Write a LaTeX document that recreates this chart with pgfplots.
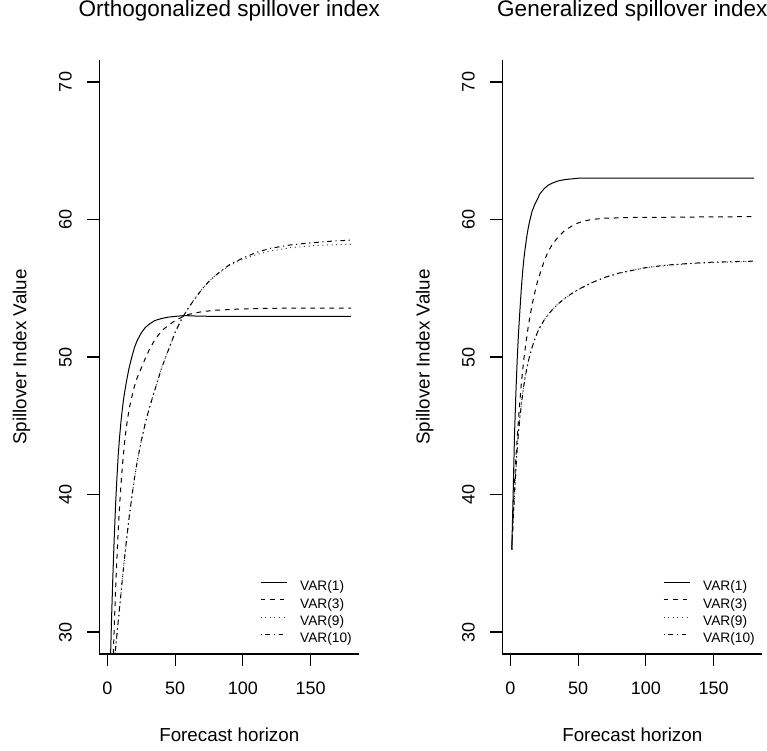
\documentclass[border=0pt]{standalone}
\usepackage{fontspec}
\setmainfont{Liberation Sans}
\usepackage{pgfplots}
\usepackage{pgfplotstable}
\pgfplotsset{compat=1.18}

\pgfplotstableread{
h v1 v3 v9 v10
1 22.0 16.0 23.5 23.5
2 27.0 20.0 24.6 24.6
3 30.8 24.0 25.7 25.7
4 34.0 27.4 26.7 26.7
5 36.8 30.3 27.8 27.8
6 39.2 33.0 28.8 28.8
7 41.2 35.3 29.8 29.8
8 42.9 37.4 30.8 30.8
9 44.2 39.2 31.8 31.8
10 45.3 40.7 32.8 32.8
11 46.2 42.0 33.8 33.8
12 47.0 43.1 34.8 34.8
13 47.6 44.1 35.7 35.7
14 48.2 44.9 36.6 36.6
16 49.2 46.2 38.3 38.3
18 50.0 47.1 39.8 39.8
20 50.7 47.9 41.2 41.2
22 51.2 48.5 42.4 42.4
25 51.75 49.2 43.9 43.9
28 52.15 49.9 45.2 45.2
31 52.4 50.55 46.3 46.3
35 52.65 51.25 47.6 47.6
40 52.8 51.9 49.2 49.2
45 52.9 52.3 50.5 50.5
50 52.95 52.65 51.8 51.8
55 53.0 52.9 52.8 52.8
60 53.0 53.1 53.6 53.6
65 52.98 53.2 54.3 54.3
70 52.97 53.3 54.95 54.95
75 52.96 53.35 55.5 55.5
80 52.96 53.4 55.95 55.95
90 52.95 53.45 56.65 56.7
100 52.95 53.5 57.1 57.2
110 52.95 53.52 57.45 57.6
120 52.95 53.54 57.7 57.9
135 52.95 53.55 57.95 58.15
150 52.95 53.55 58.08 58.3
165 52.95 53.55 58.16 58.42
180 52.95 53.55 58.2 58.5
}\orthtab

\pgfplotstableread{
h v1 v3 v9 v10
1 36.0 36.0 36.0 36.0
2 40.0 38.6 38.0 38.0
3 44.3 40.8 40.0 40.0
4 47.3 42.6 41.8 41.8
5 49.8 44.1 43.3 43.3
6 51.8 45.5 44.6 44.6
7 53.4 46.8 45.6 45.6
8 54.9 48.0 46.5 46.5
9 56.2 49.0 47.3 47.3
10 57.2 49.9 48.0 48.0
11 58.0 50.7 48.6 48.6
12 58.7 51.4 49.1 49.1
13 59.3 52.1 49.6 49.6
14 59.8 52.7 50.0 50.0
16 60.6 53.8 50.7 50.7
18 61.1 54.7 51.3 51.3
20 61.5 55.5 51.8 51.8
22 61.9 56.1 52.2 52.2
25 62.25 57.0 52.7 52.7
28 62.5 57.7 53.1 53.1
31 62.65 58.2 53.45 53.45
35 62.8 58.7 53.85 53.85
40 62.9 59.2 54.25 54.25
45 62.95 59.5 54.6 54.6
50 63.0 59.75 54.9 54.9
55 63.0 59.9 55.15 55.15
60 63.0 60.0 55.4 55.4
65 63.0 60.05 55.6 55.6
70 63.0 60.1 55.8 55.8
75 63.0 60.1 55.95 55.95
80 63.0 60.12 56.1 56.1
90 63.0 60.15 56.3 56.3
100 63.0 60.15 56.5 56.5
110 63.0 60.15 56.6 56.62
120 63.0 60.17 56.7 56.72
135 63.0 60.18 56.8 56.82
150 63.0 60.19 56.87 56.9
165 63.0 60.2 56.91 56.94
180 63.0 60.2 56.95 56.97
}\gentab

\pgfplotsset{
  rax/.style={
    scale only axis,
    width=260pt, height=594pt,
    xmin=-6, xmax=186, ymin=28.4, ymax=71.6,
    axis lines=left,
    axis line style={-, line width=1.1pt, black},
    tick align=outside,
    major tick length=12pt,
    tick style={line width=1.1pt, black},
    xtick={0,50,100,150}, ytick={30,40,50,60,70},
    minor tick num=0,
    /pgf/number format/assume math mode=true,
    ticklabel style={font=\fontsize{18}{21}\selectfont, inner sep=0pt},
    xticklabel style={anchor=north, yshift=-15.7pt},
    yticklabel style={rotate=90, anchor=south, yshift=15.3pt},
    title style={at={(axis description cs:0.5,1.0623)}, anchor=base, font=\fontsize{22.5}{26}\selectfont, inner sep=0pt},
    xlabel style={at={(axis description cs:0.5,-0.1465)}, anchor=base, font=\fontsize{18.8}{22}\selectfont, inner sep=0pt},
    ylabel style={at={(axis description cs:-0.28,0.5)}, anchor=base, font=\fontsize{18.8}{22}\selectfont, inner sep=0pt},
    every axis plot/.append style={line width=1pt, black},
    legend style={at={(axis description cs:0.618,0.1254)}, anchor=north west, draw=none, fill=none,
      inner sep=0pt, column sep=13pt, row sep=3.4pt,
      font=\fontsize{13.7}{16}\selectfont,
      nodes={inner sep=0pt, text height=11pt, text depth=3pt}},
    legend cell align=left,
    legend image code/.code={\draw[##1] (0pt,4.5pt) -- (26pt,4.5pt);},
    clip=true,
  },
  s1/.style={solid},
  s3/.style={dash pattern=on 4.75pt off 4.75pt},
  s9/.style={dash pattern=on 1pt off 3.6pt, black!75},
  s10/.style={dash pattern=on 1.2pt off 3.6pt on 4.8pt off 3.6pt},
}

\begin{document}
\begin{tikzpicture}
\useasboundingbox (0,0) rectangle (767pt,750pt);
\begin{axis}[rax, at={(99.3pt,96pt)}, anchor=south west,
  title={Orthogonalized spillover index},
  xlabel={Forecast horizon}, ylabel={Spillover Index Value}]
\addplot[s1] table[x=h,y=v1] {\orthtab};
\addplot[s3] table[x=h,y=v3] {\orthtab};
\addplot[s9] table[x=h,y=v9] {\orthtab};
\addplot[s10] table[x=h,y=v10] {\orthtab};
\legend{VAR(1),VAR(3),VAR(9),VAR(10)}
\end{axis}
\begin{axis}[rax, at={(502.3pt,96pt)}, anchor=south west,
  title={Generalized spillover index},
  xlabel={Forecast horizon}, ylabel={Spillover Index Value}]
\addplot[s1] table[x=h,y=v1] {\gentab};
\addplot[s3] table[x=h,y=v3] {\gentab};
\addplot[s9] table[x=h,y=v9] {\gentab};
\addplot[s10] table[x=h,y=v10] {\gentab};
\legend{VAR(1),VAR(3),VAR(9),VAR(10)}
\end{axis}
\end{tikzpicture}
\end{document}
